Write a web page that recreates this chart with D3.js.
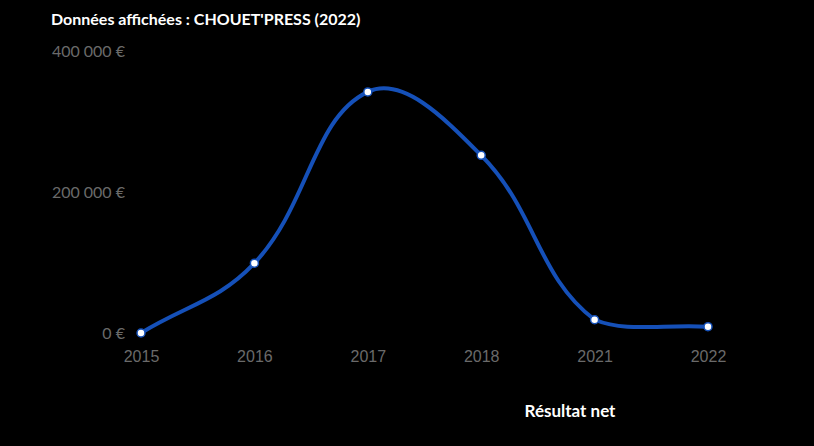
<!DOCTYPE html>
<html>
<head>
<meta charset="utf-8">
<script src="https://cdn.jsdelivr.net/npm/d3@7"></script>
<style>
  html, body { margin: 0; padding: 0; background: #000; }
  svg { display: block; }
</style>
</head>
<body>
<svg id="chart" width="814" height="446"></svg>
<script>
const title = "Données affichées : CHOUET'PRESS (2022)";
const years = ["2015", "2016", "2017", "2018", "2021", "2022"];
const resultatNet = [0, 99000, 342000, 252000, 18800, 9000];
const yTicks = [0, 200000, 400000];
const seriesName = "Résultat net";

const svg = d3.select("#chart");
const W = 814, H = 446;
svg.append("rect").attr("width", W).attr("height", H).attr("fill", "#000");

const x = d3.scalePoint().domain(years).range([141, 708]);
const y = d3.scaleLinear().domain([0, 400000]).range([333, 51]);

const fmt = v => (v === 0 ? "0" : d3.format(",")(v).replace(/,/g, "\u202F")) + " €";

// Title
svg.append("text")
  .attr("x", 51).attr("y", 25)
  .attr("fill", "#fff")
  .attr("font-family", "Lato, sans-serif")
  .attr("font-weight", "bold")
  .attr("font-size", 16)
  .text(title);

// Y axis
const yAxis = d3.axisLeft(y).tickValues(yTicks).tickFormat(fmt).tickSize(0).tickPadding(0);
const gy = svg.append("g").attr("transform", "translate(125,0)").call(yAxis);
gy.select(".domain").remove();
gy.selectAll("text")
  .attr("fill", "#6a6a6a")
  .attr("font-family", "Lato, sans-serif")
  .attr("font-size", 16)
  .attr("dy", "0.35em");

// X axis
const xAxis = d3.axisBottom(x).tickSize(0).tickPadding(0);
const gx = svg.append("g").attr("transform", "translate(0,351)").call(xAxis);
gx.select(".domain").remove();
gx.selectAll("text")
  .attr("fill", "#6a6a6a")
  .attr("font-family", "'Liberation Sans', Arial, sans-serif")
  .attr("font-size", 16)
  .attr("dy", "0.71em");

// Chart.js-like spline curve (tension 0.4) with control points capped to the chart area
const areaTop = y.range()[1], areaBottom = y.range()[0];
const areaLeft = x.range()[0], areaRight = x.range()[1];
function chartjsCurve(context) {
  let pts = [];
  const t = 0.4;
  const capX = v => Math.max(areaLeft, Math.min(areaRight, v));
  const capY = v => Math.max(areaTop, Math.min(areaBottom, v));
  return {
    areaStart() {}, areaEnd() {},
    lineStart() { pts = []; },
    point(px, py) { pts.push([+px, +py]); },
    lineEnd() {
      const n = pts.length;
      if (!n) return;
      const cps = pts.map((p, i) => {
        const prev = pts[i - 1] || p, next = pts[i + 1] || p;
        const d01 = Math.hypot(p[0] - prev[0], p[1] - prev[1]);
        const d12 = Math.hypot(next[0] - p[0], next[1] - p[1]);
        let s01 = d01 / (d01 + d12), s12 = d12 / (d01 + d12);
        if (isNaN(s01)) s01 = 0; if (isNaN(s12)) s12 = 0;
        const fa = t * s01, fb = t * s12;
        return {
          prev: [capX(p[0] - fa * (next[0] - prev[0])), capY(p[1] - fa * (next[1] - prev[1]))],
          next: [capX(p[0] + fb * (next[0] - prev[0])), capY(p[1] + fb * (next[1] - prev[1]))]
        };
      });
      context.moveTo(pts[0][0], pts[0][1]);
      for (let i = 1; i < n; i++) {
        context.bezierCurveTo(cps[i - 1].next[0], cps[i - 1].next[1],
                              cps[i].prev[0], cps[i].prev[1],
                              pts[i][0], pts[i][1]);
      }
    }
  };
}

const data = years.map((yr, i) => ({ yr, v: resultatNet[i] }));
const line = d3.line().x(d => x(d.yr)).y(d => y(d.v)).curve(chartjsCurve);

svg.append("path")
  .datum(data)
  .attr("d", line)
  .attr("fill", "none")
  .attr("stroke", "#1550b8")
  .attr("stroke-width", 4);

svg.selectAll("circle.pt")
  .data(data)
  .enter().append("circle")
  .attr("class", "pt")
  .attr("cx", d => x(d.yr))
  .attr("cy", d => y(d.v))
  .attr("r", 4)
  .attr("fill", "#fff")
  .attr("stroke", "#1550b8")
  .attr("stroke-width", 1.5);

// Legend
svg.append("text")
  .attr("x", 570).attr("y", 417)
  .attr("text-anchor", "middle")
  .attr("fill", "#fff")
  .attr("font-family", "Lato, sans-serif")
  .attr("font-weight", "bold")
  .attr("font-size", 17)
  .text(seriesName);
</script>
</body>
</html>
